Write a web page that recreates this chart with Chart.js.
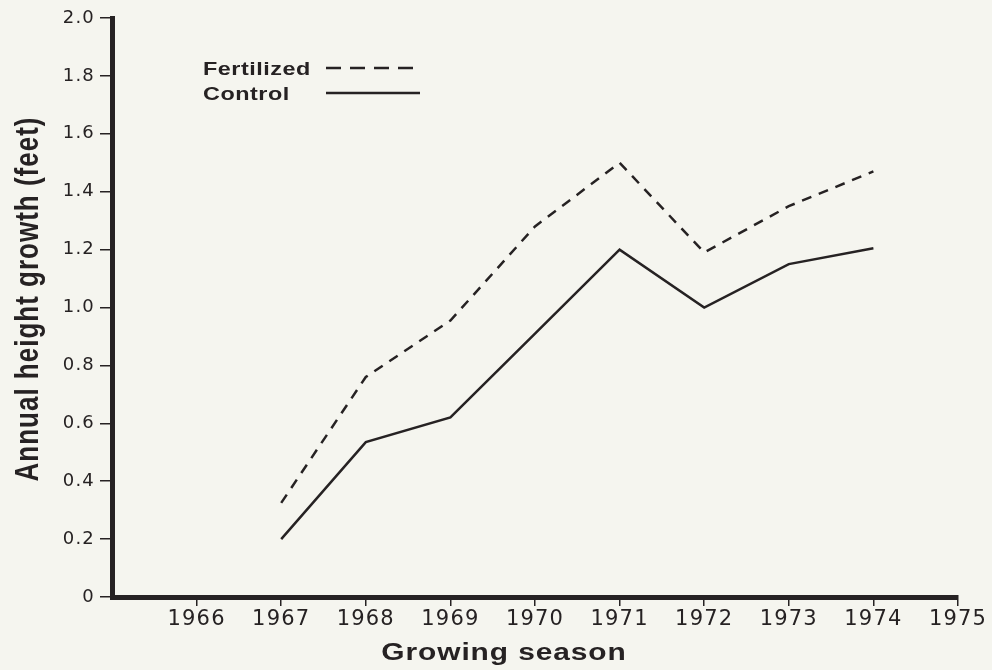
<!DOCTYPE html>
<html>
<head>
<meta charset="utf-8">
<script src="https://cdn.jsdelivr.net/npm/chart.js@4.4.1/dist/chart.umd.min.js"></script>
<style>
  html, body { margin: 0; padding: 0; background: #f5f5ef; }
  #wrap { width: 992px; height: 670px; }
</style>
</head>
<body>
<div id="wrap"><canvas id="grafico" width="992" height="670"></canvas></div>
<script>
// valores
const seasons = [1967, 1968, 1969, 1970, 1971, 1972, 1973, 1974]
const fertilized = [0.325, 0.76, 0.955, 1.28, 1.50, 1.19, 1.35, 1.47]
const control = [0.20, 0.535, 0.62, 0.91, 1.20, 1.00, 1.15, 1.205]
const xTicks = [1966, 1967, 1968, 1969, 1970, 1971, 1972, 1973, 1974, 1975]
const yTicks = [0, 0.2, 0.4, 0.6, 0.8, 1.0, 1.2, 1.4, 1.6, 1.8, 2.0]

const tinta = '#262223'
const fonte = "'Liberation Sans', Arial, Helvetica, sans-serif"
const fonteTicks = "'DejaVu Sans', 'Liberation Sans', sans-serif"
const esticar = 1.3

// texto esticado na horizontal, como no original
function escreve(ctx, texto, x, y, font, espaco) {
    ctx.save()
    ctx.translate(x, y)
    ctx.scale(esticar, 1)
    ctx.font = font
    ctx.letterSpacing = espaco
    ctx.fillText(texto, 0, 0)
    ctx.restore()
}

const textos = {
    id: 'textos',
    beforeDraw(chart) {
        chart.ctx.letterSpacing = '1.2px'
    },
    afterDraw(chart) {
        const ctx = chart.ctx
        ctx.save()
        ctx.fillStyle = tinta
        ctx.strokeStyle = tinta

        // legenda
        ctx.textAlign = 'left'
        ctx.textBaseline = 'middle'
        const itens = [[0, 69], [1, 94]]
        itens.forEach(([i, y]) => {
            const ds = chart.data.datasets[i]
            escreve(ctx, ds.label, 203, y + 1, 'bold 18px ' + fonte, '0.4px')
            ctx.lineWidth = 2.5
            ctx.setLineDash(ds.borderDash ? [15, 9] : [])
            ctx.beginPath()
            ctx.moveTo(326, y - 1)
            ctx.lineTo(420, y - 1)
            ctx.stroke()
        })
        ctx.setLineDash([])

        // titulo eixo x
        ctx.textAlign = 'center'
        ctx.textBaseline = 'alphabetic'
        escreve(ctx, 'Growing season', 504, 660, 'bold 23px ' + fonte, '0.7px')

        // titulo eixo y
        ctx.save()
        ctx.translate(38, 299)
        ctx.scale(esticar, 1)
        ctx.rotate(-Math.PI / 2)
        ctx.font = 'bold 26px ' + fonte
        ctx.letterSpacing = '1px'
        ctx.fillText('Annual height growth (feet)', 0, 0)
        ctx.restore()

        ctx.restore()
    }
}

const ctx = document.getElementById('grafico').getContext('2d')

const meuGrafico = new Chart(ctx, {
    type: 'line',
    data: {
        datasets: [{
            label: 'Fertilized',
            data: seasons.map((s, i) => ({ x: s, y: fertilized[i] })),
            borderColor: tinta,
            borderWidth: 2.5,
            borderDash: [10, 8],
            pointRadius: 0,
            tension: 0,
            fill: false
        }, {
            label: 'Control',
            data: seasons.map((s, i) => ({ x: s, y: control[i] })),
            borderColor: tinta,
            borderWidth: 2.5,
            pointRadius: 0,
            tension: 0,
            fill: false
        }]
    },
    options: {
        responsive: false,
        animation: false,
        layout: {
            padding: { left: 0, right: 34, top: 18, bottom: 0 }
        },
        plugins: {
            legend: { display: false },
            tooltip: { enabled: false }
        },
        scales: {
            x: {
                type: 'linear',
                min: 1965,
                max: 1975,
                afterBuildTicks: (scale) => {
                    scale.ticks = xTicks.map(v => ({ value: v }))
                },
                afterFit: (scale) => {
                    scale.height = 73
                },
                border: { display: true, color: tinta, width: 5 },
                grid: {
                    display: true,
                    drawOnChartArea: false,
                    drawTicks: true,
                    tickLength: 9,
                    color: tinta,
                    lineWidth: 1.5
                },
                ticks: {
                    autoSkip: false,
                    maxRotation: 0,
                    padding: 1,
                    color: tinta,
                    font: { family: fonteTicks, size: 21 },
                    callback: (v) => String(v)
                }
            },
            y: {
                type: 'linear',
                min: 0,
                max: 2,
                afterBuildTicks: (scale) => {
                    scale.ticks = yTicks.map(v => ({ value: v }))
                },
                afterFit: (scale) => {
                    scale.width = 112
                },
                border: { display: true, color: tinta, width: 5 },
                grid: {
                    display: true,
                    drawOnChartArea: false,
                    drawTicks: true,
                    tickLength: 12,
                    color: tinta,
                    lineWidth: 1.5
                },
                ticks: {
                    padding: 5,
                    color: tinta,
                    font: { family: fonteTicks, size: 18 },
                    callback: (v) => v === 0 ? '0' : v.toFixed(1)
                }
            }
        }
    },
    plugins: [textos]
});
</script>
</body>
</html>
